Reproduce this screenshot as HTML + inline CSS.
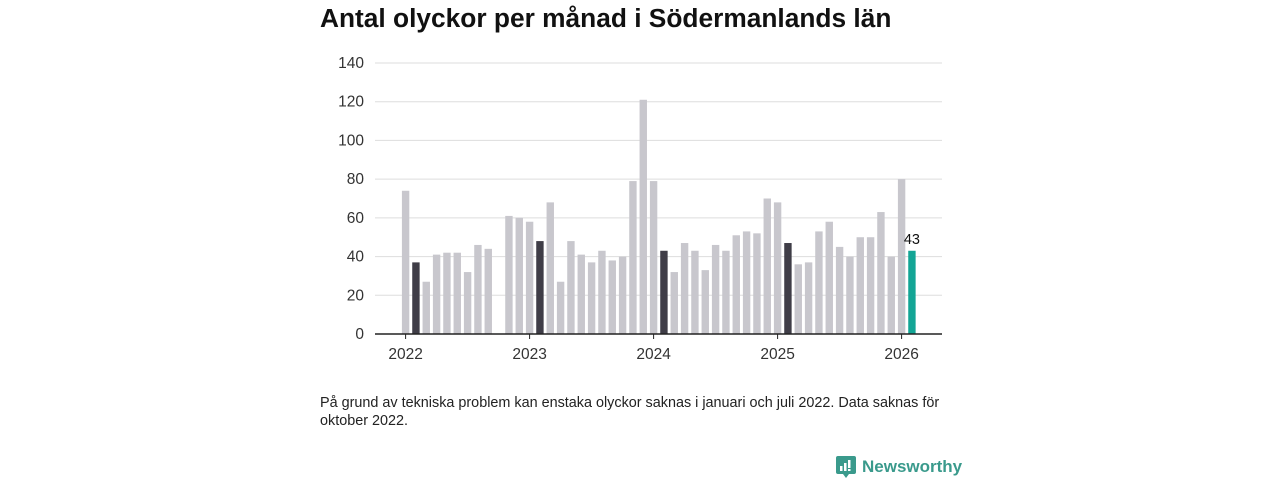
<!DOCTYPE html>
<html><head><meta charset="utf-8">
<style>
body{margin:0;width:1280px;height:480px;background:#fff;font-family:"Liberation Sans","DejaVu Sans",sans-serif;position:relative;overflow:hidden}
#title{position:absolute;left:320px;top:3px;font-size:26.3px;font-weight:bold;color:#111;margin:0}
#note{position:absolute;left:320px;top:394px;width:660px;font-size:14.4px;line-height:18px;color:#222}
#logo{position:absolute;left:836px;top:455px;display:flex;align-items:center;color:#3a9a8c;font-size:17px;font-weight:bold}
</style></head><body>
<h1 id="title">Antal olyckor per månad i Södermanlands län</h1>
<svg id="chart" width="1280" height="380" style="position:absolute;left:0;top:0"></svg>
<div id="note">På grund av tekniska problem kan enstaka olyckor saknas i januari och juli 2022. Data saknas för oktober 2022.</div>
<div id="logo"><svg width="20" height="24" viewBox="0 0 20 24"><rect x="0" y="1" width="20" height="18" rx="2" fill="#3a9a8c"/><polygon points="7,19 10,23 13,19" fill="#3a9a8c"/><rect x="4" y="11" width="2.5" height="5" fill="#fff"/><rect x="8" y="8" width="2.5" height="8" fill="#fff"/><rect x="12" y="5" width="2.5" height="8" fill="#fff"/><rect x="12" y="14" width="2.5" height="2" fill="#fff"/></svg><span style="margin-left:6px">Newsworthy</span></div>
<script>
const values2022=[74,37,27,41,42,42,32,46,44,null,61,60];
const values2023=[58,48,68,27,48,41,37,43,38,40,79,121];
const values2024=[79,43,32,47,43,33,46,43,51,53,52,70];
const values2025=[68,47,36,37,53,58,45,40,50,50,63,40];
const values2026=[80,43];
const yTicks=[0,20,40,60,80,100,120,140];
const yearLabels=["2022","2023","2024","2025","2026"];
const values=[].concat(values2022,values2023,values2024,values2025,values2026);
const NS="http://www.w3.org/2000/svg";
const svg=document.getElementById('chart');
const y0=334,yTop=63,yMax=140;
const y=v=>y0-(v/yMax)*(y0-yTop);
const x=i=>405.6+i*(124/12);
function el(t,a){const e=document.createElementNS(NS,t);for(const k in a)e.setAttribute(k,a[k]);svg.appendChild(e);return e;}
yTicks.forEach(t=>{
  if(t>0){const g=el('line',{x1:375,x2:942,y1:y(t),y2:y(t),stroke:'#ddd','stroke-width':1});
  
  }
  const l=el('text',{x:364,y:y(t)+5,'text-anchor':'end','font-size':15.5,fill:'#333'});
  l.textContent=t;
  
  
});
const last=values.length-1;
values.forEach((v,i)=>{
  if(v==null)return;
  const m=i%12;
  const fill=i===last?'#13a595':(m===1?'#3f3d47':'#c8c7cd');
  const r=el('rect',{x:x(i)-3.7,y:y(v),width:7.4,height:y0-y(v),fill:fill});
  
  
});
const lv=el('text',{x:x(last),y:y(values[last])-7,'text-anchor':'middle','font-size':14.5,fill:'#111'});
lv.textContent=values[last];


const ax=el('line',{x1:375,x2:942,y1:y0,y2:y0,stroke:'#222','stroke-width':1.5});


yearLabels.forEach((lab,k)=>{
  const xx=x(k*12);
  const tk=el('line',{x1:xx,x2:xx,y1:y0,y2:y0+5,stroke:'#222','stroke-width':1});
  
  
  const t=el('text',{x:xx,y:y0+25,'text-anchor':'middle','font-size':15.5,fill:'#333'});
  t.textContent=lab;
  
  
});
</script>
</body></html>
